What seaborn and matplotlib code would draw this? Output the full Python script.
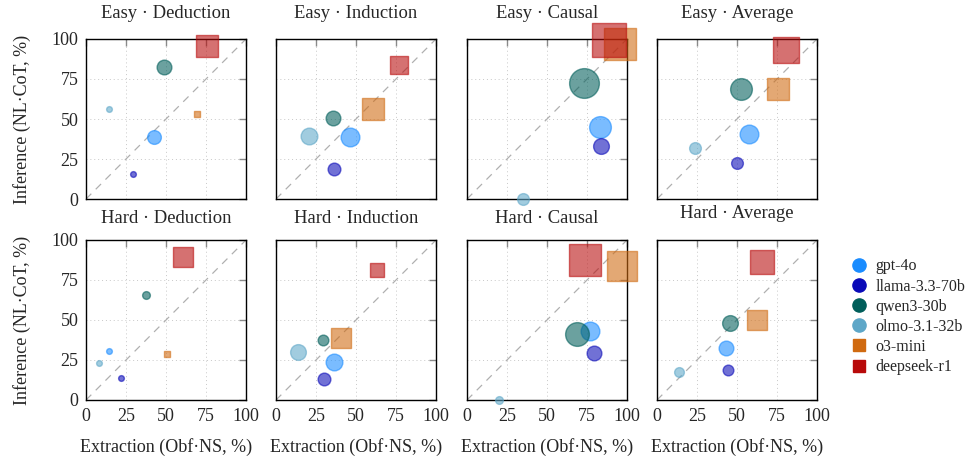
import numpy as np
import pandas as pd
import matplotlib
matplotlib.use("Agg")
import matplotlib.pyplot as plt
import seaborn as sns
from matplotlib.lines import Line2D

models = ["gpt-4o", "llama-3.3-70b", "qwen3-30b", "olmo-3.1-32b", "o3-mini", "deepseek-r1"]
colors = ["#1a8cff", "#0a0ab8", "#005e5a", "#5ea7c8", "#d06a10", "#b80a0a"]
markers = ["o", "o", "o", "o", "s", "s"]

# values (order follows `models`); weight = bubble diameter estimate
easy_deduction_x = [42.7, 29.6, 49.0, 14.4, 69.2, 75.6]
easy_deduction_y = [38.5, 15.5, 82.8, 56.3, 53.4, 95.8]
easy_deduction_w = [15, 7, 16, 7, 7, 24]

easy_induction_x = [46.0, 36.5, 35.4, 20.8, 60.8, 76.7]
easy_induction_y = [38.7, 18.8, 50.7, 39.1, 56.3, 83.7]
easy_induction_w = [20, 14, 16, 18, 23, 20]

easy_causal_x = [83.1, 83.9, 73.1, 34.8, 95.9, 88.9]
easy_causal_y = [44.9, 33.1, 72.5, 0.2, 96.7, 99.1]
easy_causal_w = [23, 17, 31, 13, 34, 36]

easy_average_x = [57.5, 49.8, 52.7, 23.5, 75.4, 80.6]
easy_average_y = [40.4, 22.5, 68.5, 31.9, 68.9, 93.0]
easy_average_w = [20, 13, 23, 13, 24, 28]

hard_deduction_x = [14.4, 22.1, 37.7, 7.9, 50.6, 60.4]
hard_deduction_y = [30.6, 13.5, 65.8, 23.3, 28.5, 89.2]
hard_deduction_w = [7, 7, 9, 7, 7, 22]

hard_induction_x = [36.3, 30.2, 29.6, 13.9, 40.4, 63.3]
hard_induction_y = [23.5, 13.1, 37.3, 30.2, 38.5, 81.3]
hard_induction_w = [18, 14, 12, 17, 21, 16]

hard_causal_x = [77.1, 79.4, 68.8, 19.8, 96.7, 73.5]
hard_causal_y = [42.9, 29.4, 41.3, 0.0, 83.9, 87.6]
hard_causal_w = [20, 16, 25, 9, 31, 33]

hard_average_x = [43.0, 44.6, 45.6, 14.0, 62.5, 65.8]
hard_average_y = [32.5, 18.6, 48.3, 17.7, 50.2, 86.0]
hard_average_w = [16, 12, 17, 11, 21, 25]

panels = [
    ("Easy · Deduction", easy_deduction_x, easy_deduction_y, easy_deduction_w),
    ("Easy · Induction", easy_induction_x, easy_induction_y, easy_induction_w),
    ("Easy · Causal", easy_causal_x, easy_causal_y, easy_causal_w),
    ("Easy · Average", easy_average_x, easy_average_y, easy_average_w),
    ("Hard · Deduction", hard_deduction_x, hard_deduction_y, hard_deduction_w),
    ("Hard · Induction", hard_induction_x, hard_induction_y, hard_induction_w),
    ("Hard · Causal", hard_causal_x, hard_causal_y, hard_causal_w),
    ("Hard · Average", hard_average_x, hard_average_y, hard_average_w),
]
ticks = [0, 25, 50, 75, 100]

sns.set_style("white")
plt.rcParams["font.family"] = ["Liberation Serif", "DejaVu Serif"]

W, H = 969, 459
fig = plt.figure(figsize=(W / 100, H / 100), dpi=100)

col_left = [86, 276, 467, 657]
row_bottom = [199, 400]
size_px = 160

for i, (title, xs, ys, ws) in enumerate(panels):
    r, c = divmod(i, 4)
    ax = fig.add_axes([col_left[c] / W, 1 - row_bottom[r] / H, size_px / W, size_px / H])
    ax.plot([0, 100], [0, 100], ls=(0, (6, 5)), color="#b0b0b0", lw=0.9, zorder=1)
    for j, m in enumerate(models):
        s = max(0.72 * ws[j] - 0.9, 2) ** 2
        sns.scatterplot(x=[xs[j]], y=[ys[j]], s=s, color=colors[j], marker=markers[j],
                        edgecolor=colors[j], linewidth=1.0, alpha=0.58, ax=ax, zorder=3)
        ax.collections[-1].set_clip_on(False)
    ax.set_xlim(0, 100)
    ax.set_ylim(0, 100)
    ax.set_xticks(ticks)
    ax.set_yticks(ticks)
    ax.grid(True, ls=(0, (1, 3)), color="#c8c8c8", lw=0.7)
    ax.set_axisbelow(True)
    ax.tick_params(direction="in", length=5, width=1, color="#8a8a8a",
                   top=True, right=True, labelsize=13, pad=5.5)
    for sp in ax.spines.values():
        sp.set_color("black")
        sp.set_linewidth(1.0)
    if c != 0:
        ax.set_yticklabels([])
    else:
        ax.set_ylabel("Inference (NL·CoT, %)", fontsize=13, labelpad=15)
    if r == 0:
        ax.set_xticklabels([])
    else:
        ax.set_xlabel("Extraction (Obf·NS, %)", fontsize=13, labelpad=10)
    if i == 7:
        pad = 16
    elif r == 0:
        pad = 15
    else:
        pad = 12
    ax.set_title(title, fontsize=13.4, pad=pad)

handles = [Line2D([0], [0], marker=markers[j], color="none", markerfacecolor=colors[j],
                  markeredgecolor=colors[j], markersize=9.5 if markers[j] == "o" else 9)
           for j in range(len(models))]
fig.legend(handles, models, loc="upper left", bbox_to_anchor=(835 / W, 1 - 244 / H),
           frameon=False, fontsize=11.5, handletextpad=0.45, labelspacing=0.26,
           handlelength=1.2)

fig.savefig("out.png", dpi=100)
